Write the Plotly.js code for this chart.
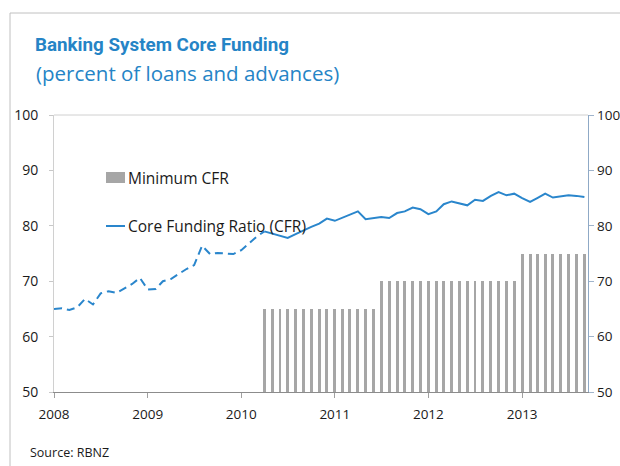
<!DOCTYPE html>
<html>
<head>
<meta charset="utf-8">
<script src="https://cdn.plot.ly/plotly-3.0.1.min.js"></script>
<style>html,body{margin:0;padding:0;background:#fff;}#chart{width:620px;height:466px;}</style>
</head>
<body>
<div id="chart"></div>
<script>
// ---- data ----
const months = [
  '2008-01','2008-02','2008-03','2008-04','2008-05','2008-06','2008-07','2008-08','2008-09','2008-10','2008-11','2008-12',
  '2009-01','2009-02','2009-03','2009-04','2009-05','2009-06','2009-07','2009-08','2009-09','2009-10','2009-11','2009-12',
  '2010-01','2010-02','2010-03','2010-04','2010-05','2010-06','2010-07','2010-08','2010-09','2010-10','2010-11','2010-12',
  '2011-01','2011-02','2011-03','2011-04','2011-05','2011-06','2011-07','2011-08','2011-09','2011-10','2011-11','2011-12',
  '2012-01','2012-02','2012-03','2012-04','2012-05','2012-06','2012-07','2012-08','2012-09','2012-10','2012-11','2012-12',
  '2013-01','2013-02','2013-03','2013-04','2013-05','2013-06','2013-07','2013-08','2013-09'
];
const cfrValues = [
  65.0,65.1,64.8,65.3,66.8,65.8,67.8,68.2,67.9,68.7,69.5,70.6,
  68.5,68.6,70.0,70.4,71.3,72.2,72.9,76.4,74.9,75.1,75.0,74.9,
  75.6,76.8,78.0,79.0,78.6,78.3,77.8,78.5,79.2,79.8,80.4,81.3,
  80.9,81.5,82.1,82.6,81.2,81.4,81.6,81.4,82.3,82.6,83.3,83.0,
  82.1,82.6,83.9,84.4,84.1,83.7,84.7,84.5,85.4,86.1,85.5,85.8,
  85.0,84.3,85.0,85.8,85.1,85.3,85.5,85.4,85.2
];
// first month of the official CFR (solid line from here on)
const cfrStart = '2010-04';
const minMonths = [
  '2010-04','2010-05','2010-06','2010-07','2010-08','2010-09','2010-10','2010-11','2010-12',
  '2011-01','2011-02','2011-03','2011-04','2011-05','2011-06','2011-07','2011-08','2011-09','2011-10','2011-11','2011-12',
  '2012-01','2012-02','2012-03','2012-04','2012-05','2012-06','2012-07','2012-08','2012-09','2012-10','2012-11','2012-12',
  '2013-01','2013-02','2013-03','2013-04','2013-05','2013-06','2013-07','2013-08','2013-09'
];
const minValues = [
  65,65,65,65,65,65,65,65,65,
  65,65,65,65,65,65,70,70,70,70,70,70,
  70,70,70,70,70,70,70,70,70,70,70,70,
  75,75,75,75,75,75,75,75,75
];
const yearTicks = ['2008','2009','2010','2011','2012','2013'];
const yTicks = [50,60,70,80,90,100];

// ---- build ----
const split = months.indexOf(cfrStart);
const blue = '#2a86cc';
const FONT = 'Open Sans, Noto Sans, sans-serif';

const traces = [
  {type:'bar', x:minMonths, y:minValues, name:'Minimum CFR', marker:{color:'#a6a6a6'},
   width:1.0e9, showlegend:false, hoverinfo:'x+y'},
  {type:'scatter', mode:'lines', x:months.slice(0, split+1), y:cfrValues.slice(0, split+1),
   line:{color:blue, width:2, dash:'8px,5px'}, showlegend:false},
  {type:'scatter', mode:'lines', x:months.slice(split), y:cfrValues.slice(split),
   line:{color:blue, width:2}, showlegend:false},
  {type:'scatter', mode:'lines', x:[], y:[], yaxis:'y2', showlegend:false}
];

// pixel -> paper helpers (plot area: x 54..588, y 115..392)
const L=54, R=588, T=115, B=392;
const px = v => (v - L)/(R - L);
const py = v => (B - v)/(B - T);

const layout = {
  width:620, height:466,
  margin:{l:L, r:620-R, t:T, b:466-B, pad:0},
  paper_bgcolor:'#fff', plot_bgcolor:'#fff',
  font:{family:FONT, color:'#1a1a1a', size:13},
  bargap:0,
  title:{text:'<b>Banking System Core Funding</b>', font:{family:'Roboto, Open Sans, sans-serif', size:18.8, color:'#2584c6'},
    xref:'container', yref:'container', x:35/620, xanchor:'left', y:1-44/466, yanchor:'middle'},
  xaxis:{type:'date', range:['2008-01-01','2013-09-15'],
    tickvals:yearTicks.map(y=>y+'-01-01'), ticktext:yearTicks,
    ticks:'outside', ticklen:5, tickcolor:'#a0a0a0', showline:true, linecolor:'#8c8c8c', linewidth:1,
    showgrid:false, zeroline:false, tickfont:{size:13.5, color:'#1a1a1a'}, ticklabelstandoff:5, fixedrange:true},
  yaxis:{range:[50,100], tickvals:yTicks, ticks:'outside', ticklen:4, tickcolor:'#c8c8c8',
    showline:true, linecolor:'#d0d0d0', linewidth:1, showgrid:false, zeroline:false,
    tickfont:{size:14, color:'#1a1a1a'}, ticklabelstandoff:8},
  yaxis2:{range:[50,100], tickvals:yTicks, overlaying:'y', side:'right', ticks:'outside', ticklen:5,
    tickcolor:'#9fb4cc', showline:true, linecolor:'#8fa9c6', linewidth:1.3, showgrid:false, zeroline:false,
    tickfont:{size:13.5, color:'#1a1a1a'}},
  shapes:[
    // top border of plot area
    {type:'line', xref:'paper', yref:'paper', x0:0, x1:1, y0:1, y1:1, line:{color:'#d0d0d0', width:1}},
    // outer frame
    {type:'line', xref:'paper', yref:'paper', x0:px(10), x1:px(620), y0:py(13), y1:py(13), line:{color:'#c0c0c0', width:1}},
    {type:'line', xref:'paper', yref:'paper', x0:px(10), x1:px(10), y0:py(13), y1:py(466), line:{color:'#c0c0c0', width:1}},
    // legend swatches
    {type:'rect', xref:'paper', yref:'paper', x0:px(106), x1:px(125), y0:py(183), y1:py(172), fillcolor:'#a6a6a6', line:{width:0}},
    {type:'line', xref:'paper', yref:'paper', x0:px(106), x1:px(125), y0:py(226), y1:py(226), line:{color:blue, width:2}}
  ],
  annotations:[
    {text:'(percent of loans and advances)', xref:'paper', yref:'paper', x:px(34), y:py(73),
     xanchor:'left', yanchor:'middle', showarrow:false, font:{family:FONT, size:20.5, color:'#2584c6'}},
    {text:'Minimum CFR', xref:'paper', yref:'paper', x:px(126), y:py(178),
     xanchor:'left', yanchor:'middle', showarrow:false, font:{size:15.5, color:'#1a1a1a'}},
    {text:'Core Funding Ratio (CFR)', xref:'paper', yref:'paper', x:px(126), y:py(226),
     xanchor:'left', yanchor:'middle', showarrow:false, font:{size:15.5, color:'#1a1a1a'}},
    {text:'Source: RBNZ', xref:'paper', yref:'paper', x:px(28), y:py(452),
     xanchor:'left', yanchor:'middle', showarrow:false, font:{size:12.5, color:'#1a1a1a'}}
  ]
};

Plotly.newPlot('chart', traces, layout, {displayModeBar:false, staticPlot:true});
</script>
</body>
</html>
